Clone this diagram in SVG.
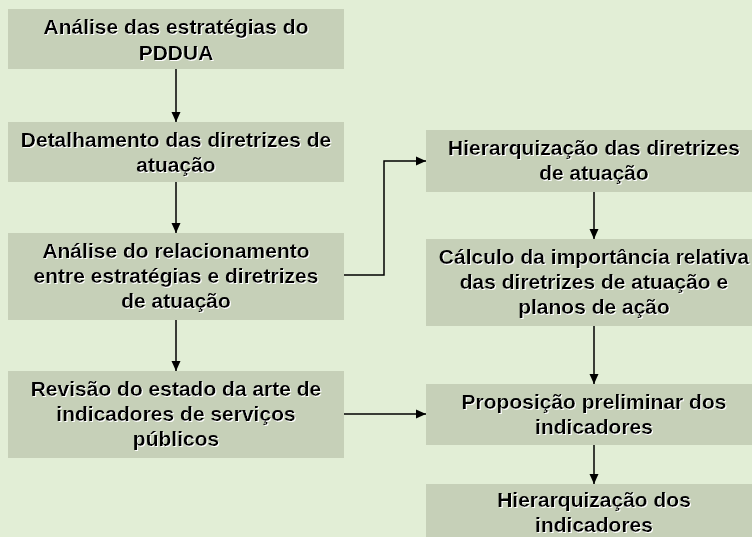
<svg xmlns="http://www.w3.org/2000/svg" width="752" height="537" viewBox="0 0 752 537">
<defs>
<style>
.box{fill:#c6d0b8;}
.t{font-family:"Liberation Sans",Arial,sans-serif;font-weight:bold;font-size:21px;fill:#000;text-anchor:middle;filter:url(#sh);}
.c{fill:none;stroke:#000;stroke-width:1.5;marker-end:url(#ah);}
</style>
<filter id="sh" x="-5%" y="-20%" width="110%" height="140%">
<feDropShadow dx="1" dy="1" stdDeviation="0" flood-color="#ffffff" flood-opacity="1"/>
</filter>
<marker id="ah" markerWidth="10" markerHeight="10" refX="10" refY="5" orient="auto" markerUnits="userSpaceOnUse">
<path d="M0,0.5 L10,5 L0,9.5 Z" fill="#000"/>
</marker>
</defs>
<rect width="752" height="537" fill="#e2eed6"/>
<g id="connectors">
<path class="c" d="M176,69 V122"/>
<path class="c" d="M176,182 V233"/>
<path class="c" d="M176,320 V371"/>
<path class="c" d="M344,275 H384 V161 H426"/>
<path class="c" d="M344,414 H426"/>
<path class="c" d="M594,192 V239"/>
<path class="c" d="M594,326 V384"/>
<path class="c" d="M594,445 V484"/>
</g>
<g id="n1"><rect class="box" x="8" y="9" width="336" height="60"/>
<text class="t" x="176" y="34">Análise das estratégias do</text>
<text class="t" x="176" y="60">PDDUA</text></g>
<g id="n2"><rect class="box" x="8" y="122" width="336" height="60"/>
<text class="t" x="176" y="147">Detalhamento das diretrizes de</text>
<text class="t" x="176" y="172">atuação</text></g>
<g id="n3"><rect class="box" x="8" y="233" width="336" height="87"/>
<text class="t" x="176" y="258">Análise do relacionamento</text>
<text class="t" x="176" y="283">entre estratégias e diretrizes</text>
<text class="t" x="176" y="308">de atuação</text></g>
<g id="n4"><rect class="box" x="8" y="371" width="336" height="87"/>
<text class="t" x="176" y="396">Revisão do estado da arte de</text>
<text class="t" x="176" y="421">indicadores de serviços</text>
<text class="t" x="176" y="446">públicos</text></g>
<g id="r1"><rect class="box" x="426" y="130" width="336" height="62"/>
<text class="t" x="594" y="155">Hierarquização das diretrizes</text>
<text class="t" x="594" y="180">de atuação</text></g>
<g id="r2"><rect class="box" x="426" y="239" width="336" height="87"/>
<text class="t" x="594" y="264">Cálculo da importância relativa</text>
<text class="t" x="594" y="289">das diretrizes de atuação e</text>
<text class="t" x="594" y="314">planos de ação</text></g>
<g id="r3"><rect class="box" x="426" y="384" width="336" height="61"/>
<text class="t" x="594" y="409">Proposição preliminar dos</text>
<text class="t" x="594" y="434">indicadores</text></g>
<g id="r4"><rect class="box" x="426" y="484" width="336" height="62"/>
<text class="t" x="594" y="507">Hierarquização dos</text>
<text class="t" x="594" y="532">indicadores</text></g>
</svg>
